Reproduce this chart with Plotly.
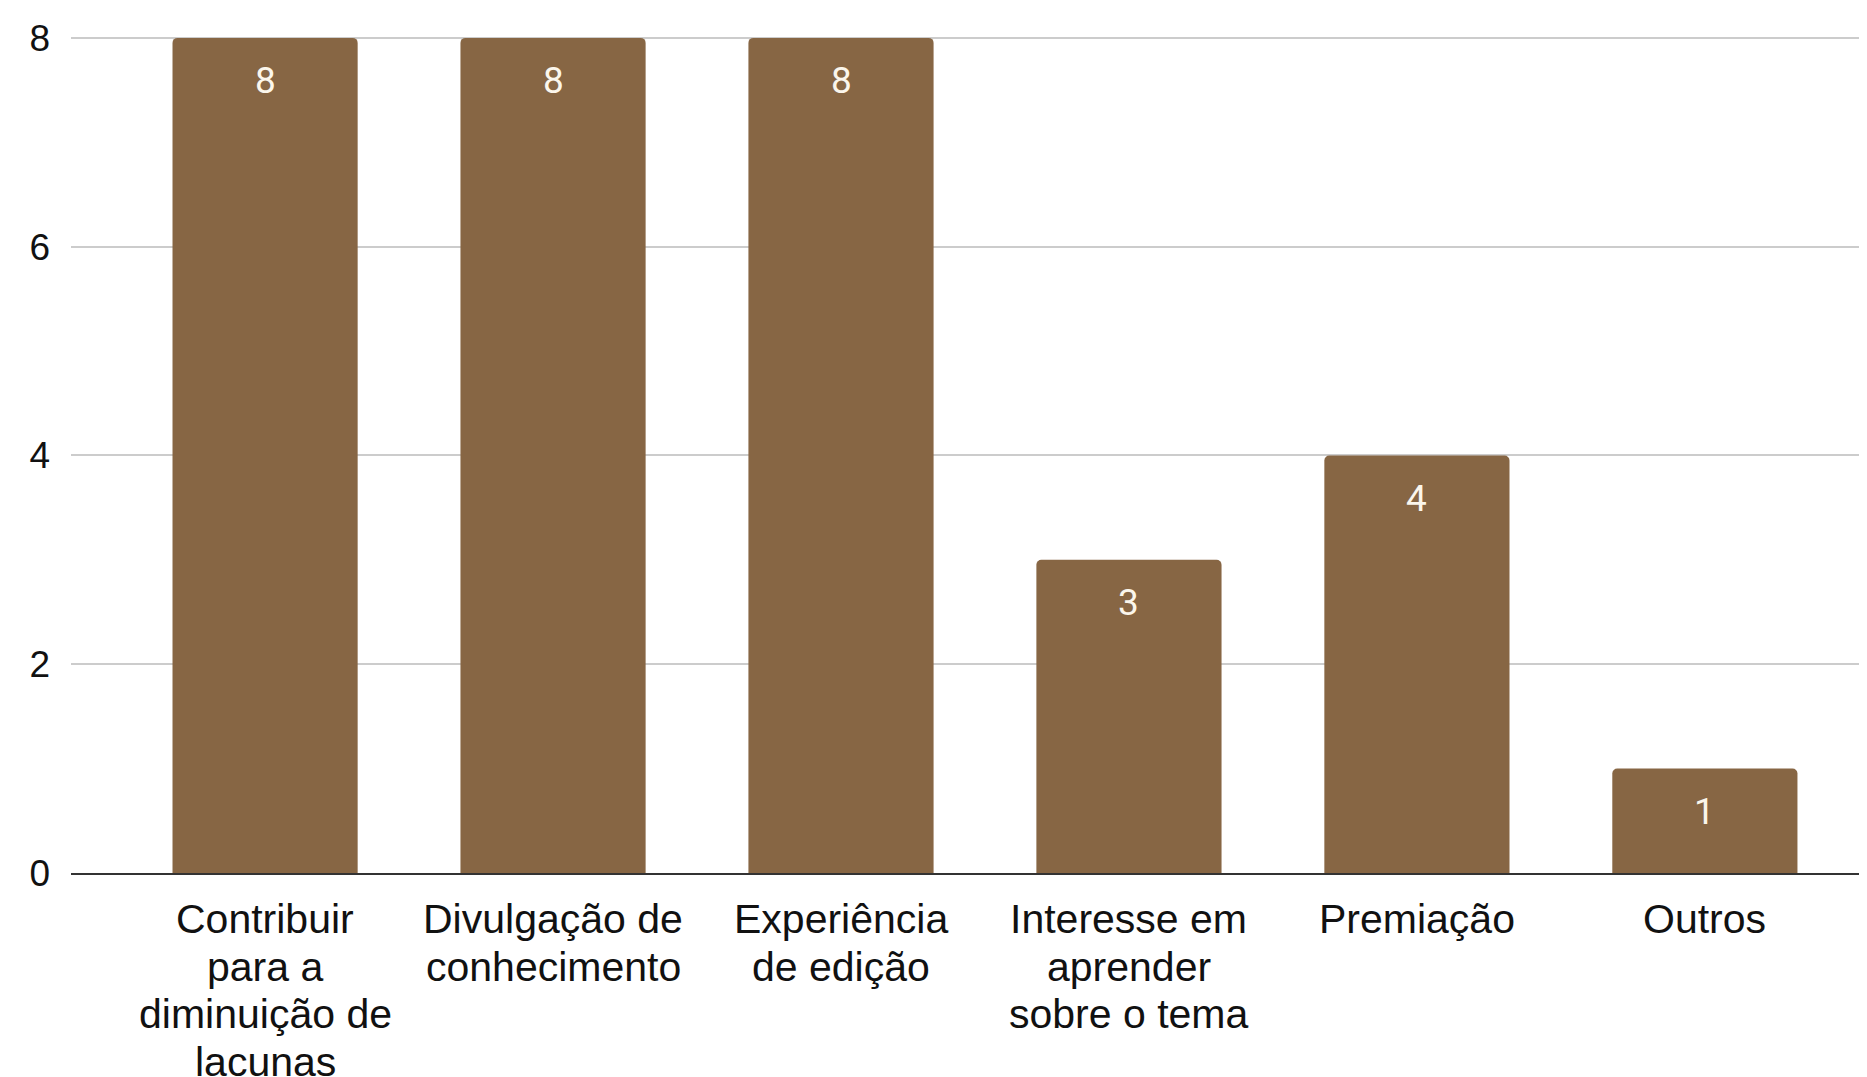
import plotly.graph_objects as go

categories = [
    "Contribuir<br>para a<br>diminuição de<br>lacunas",
    "Divulgação de<br>conhecimento",
    "Experiência<br>de edição",
    "Interesse em<br>aprender<br>sobre o tema",
    "Premiação",
    "Outros",
]
values = [8, 8, 8, 3, 4, 1]
y_ticks = [0, 2, 4, 6, 8]

BAR_COLOR = "#876644"

fig = go.Figure()
fig.add_trace(go.Bar(
    x=categories,
    y=values,
    marker=dict(color=BAR_COLOR, line=dict(width=0), cornerradius=5),
    width=0.643,
    hoverinfo="skip",
))

# value labels inside the top of each bar
annotations = [
    dict(x=c, y=v, text=str(v), showarrow=False, yanchor="middle", yshift=-43,
         font=dict(family="Roboto", size=37, color="#fbf6ec"))
    for c, v in zip(categories, values)
]

# category labels, one line at a time (tighter line spacing than plotly's default)
for c in categories:
    for i, line in enumerate(c.split("<br>")):
        annotations.append(dict(
            x=c, y=0, xref="x", yref="y", text=line, showarrow=False,
            yanchor="middle", xanchor="center", yshift=-(46 + 47.5 * i),
            font=dict(family="Liberation Sans", size=41, color="#111111"),
        ))

# page body has an 8px default margin, so the figure is sized to fit the window
fig.update_layout(
    width=1859, height=1069,
    margin=dict(l=63, r=0, t=9, b=204),
    plot_bgcolor="white", paper_bgcolor="white",
    showlegend=False,
    annotations=annotations,
    xaxis=dict(
        range=[-0.674, 5.563],
        automargin=False,
        showgrid=False,
        showline=True, linecolor="#333333", linewidth=2,
        ticks="",
        showticklabels=False,
    ),
    yaxis=dict(
        range=[0, 8.2],
        automargin=False,
        tickvals=y_ticks,
        ticktext=[str(t) for t in y_ticks],
        showgrid=True, gridcolor="#cccccc", gridwidth=2,
        zeroline=False,
        showline=False,
        ticks="",
        tickfont=dict(family="Liberation Sans", size=37, color="#111111"),
        ticklabelstandoff=20,
    ),
)

fig.write_html("out.html")
